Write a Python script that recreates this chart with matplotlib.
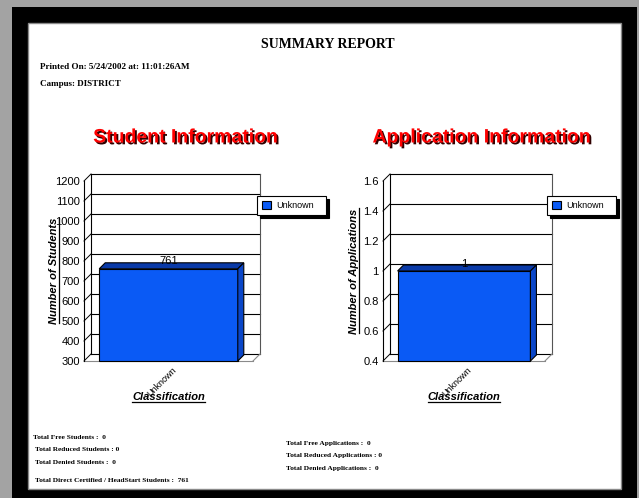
import matplotlib
matplotlib.use("Agg")
import matplotlib.pyplot as plt
from matplotlib.patches import Rectangle, Polygon
from matplotlib.transforms import ScaledTranslation
import matplotlib.patheffects as pe

# data
categories = ['Unknown']
students = [761]
applications = [1]

student_ticks = [300, 400, 500, 600, 700, 800, 900, 1000, 1100, 1200]
student_ticklabels = ['300', '400', '500', '600', '700', '800', '900', '1000', '1100', '1200']
app_ticks = [0.4, 0.6, 0.8, 1.0, 1.2, 1.4, 1.6]
app_ticklabels = ['0.4', '0.6', '0.8', '1', '1.2', '1.4', '1.6']

free_students = 0
reduced_students = 0
denied_students = 0
direct_certified = 761
free_apps = 0
reduced_apps = 0
denied_apps = 0

printed_on = '5/24/2002'
printed_at = '11:01:26AM'
campus = 'DISTRICT'

W, H = 639, 498
fig = plt.figure(figsize=(W / 100, H / 100), dpi=100)
fig.patch.set_facecolor('#a3a3a3')


def fx(x):
    return x / W


def fy(y):
    return 1 - y / H


# page frame (behind the axes)
fig.patches.append(Rectangle((fx(12), fy(498)), (637 - 12) / W, (498 - 7) / H,
                             transform=fig.transFigure, facecolor='black', edgecolor='none',
                             zorder=-2))
fig.patches.append(Rectangle((fx(28), fy(489)), (621 - 28) / W, (489 - 23) / H,
                             transform=fig.transFigure, facecolor='white', edgecolor='#8a8a8a',
                             lw=1, zorder=-1))

serif = 'Liberation Serif'
sans = 'Liberation Sans'

fig.text(fx(328), fy(45), 'SUMMARY REPORT', ha='center', va='center',
         family=serif, weight='bold', fontsize=10)
fig.text(fx(40), fy(67), 'Printed On: %s at: %s' % (printed_on, printed_at), ha='left', va='center',
         family=serif, weight='bold', fontsize=6.6)
fig.text(fx(40), fy(84), 'Campus: %s' % campus, ha='left', va='center',
         family=serif, weight='bold', fontsize=6.5)

shadow = [pe.withSimplePatchShadow(offset=(1.3, -1.3), shadow_rgbFace='#300000', alpha=1)]
fig.text(fx(186), fy(138), 'Student Information', ha='center', va='center', family=sans,
         weight='bold', fontsize=14, color='#ff0000', path_effects=shadow)
fig.text(fx(482), fy(138), 'Application Information', ha='center', va='center', family=sans,
         weight='bold', fontsize=14, color='#ff0000', path_effects=shadow)

front_col = '#0a5af5'
top_col = '#0a3aa8'
side_col = '#0a46c8'


def shift(ax, x, y, dx, dy):
    px, py = ax.transData.transform((x, y))
    return ax.transData.inverted().transform((px + dx, py + dy))


def chart(rect, values, ticks, ticklabels, ylabel, ylab_x, leg_x):
    ax = fig.add_axes(rect)
    ax.set_xlim(-0.5, 0.5)
    ax.set_ylim(ticks[0], ticks[-1])
    ax.patch.set_visible(False)
    for s in ['top', 'right', 'bottom']:
        ax.spines[s].set_visible(False)
    ax.spines['left'].set_linewidth(0.8)
    ax.set_xticks([])
    ax.set_yticks(ticks)
    ax.set_yticklabels(ticklabels, family=sans, fontsize=8)
    ax.tick_params(axis='y', length=0, pad=3)

    x0, x1 = ax.get_xlim()
    y0, y1 = ax.get_ylim()
    back = ax.transData + ScaledTranslation(0.07, 0.07, fig.dpi_scale_trans)

    # back wall + grid
    for t in ticks:
        ax.plot([x0, x1], [t, t], color='black', lw=0.8, transform=back, clip_on=False, zorder=1)
        bx, by = shift(ax, x0, t, 7, 7)
        ax.plot([x0, bx], [t, by], color='black', lw=0.7, clip_on=False, zorder=1)
    ax.plot([x0, x0], [y0, y1], color='black', lw=0.8, transform=back, clip_on=False, zorder=1)
    ax.plot([x1, x1], [y0, y1], color='#555555', lw=0.8, transform=back, clip_on=False, zorder=1)
    # floor
    ax.plot([x0, x1], [y0, y0], color='#8a8a8a', lw=0.8, clip_on=False, zorder=1)
    bx, by = shift(ax, x1, y0, 7, 7)
    ax.plot([x1, bx], [y0, by], color='#8a8a8a', lw=0.8, clip_on=False, zorder=1)

    bars = ax.bar(categories, values, width=0.82, bottom=0, color=front_col,
                  edgecolor='black', lw=0.8, label=categories[0], zorder=3, clip_on=False)
    ax.set_xlim(-0.5, 0.5)
    ax.set_ylim(ticks[0], ticks[-1])
    for b, v in zip(bars, values):
        b.set_y(y0)
        b.set_height(v - y0)
        l, r = b.get_x(), b.get_x() + b.get_width()
        tl = shift(ax, l, v, 6, 6)
        tr = shift(ax, r, v, 6, 6)
        br = shift(ax, r, y0, 6, 6)
        ax.add_patch(Polygon([(l, v), (r, v), tr, tl], closed=True, facecolor=top_col,
                             edgecolor='black', lw=0.8, zorder=3, clip_on=False))
        ax.add_patch(Polygon([(r, y0), (r, v), tr, br], closed=True, facecolor=side_col,
                             edgecolor='black', lw=0.8, zorder=3, clip_on=False))
        lab = ('%g' % v)
        ax.text(b.get_x() + b.get_width() / 2, v, lab, ha='center', va='bottom', family=sans,
                fontsize=8, zorder=4,
                transform=ax.transData + ScaledTranslation(0, 0.025, fig.dpi_scale_trans))
        ax.text(b.get_x() + b.get_width() / 2, y0, categories[0], rotation=45, ha='right', va='top',
                rotation_mode='anchor', family=sans, fontsize=6.5,
                transform=ax.transData + ScaledTranslation(0.03, -0.045, fig.dpi_scale_trans))

    leg = ax.legend(loc='upper left', bbox_to_anchor=(fx(leg_x), fy(196), 69 / W, 0),
                    bbox_transform=fig.transFigure, mode='expand', fancybox=False,
                    edgecolor='black', framealpha=1, borderaxespad=0, borderpad=0.55,
                    handlelength=0.95, handleheight=0.95, handletextpad=0.65,
                    prop={'family': sans, 'size': 6.5},
                    shadow={'color': 'black', 'alpha': 1})
    leg.get_frame().set_linewidth(0.8)

    # axis titles, underlined
    cx = (rect[0] + rect[2] / 2) * W
    ylab = fig.text(fx(ylab_x), fy((181 + 361) / 2), ylabel, rotation=90, ha='center',
                    va='baseline', rotation_mode='anchor', family=sans, weight='bold',
                    style='italic', fontsize=8)
    xlab = fig.text(fx(cx), fy(400), 'Classification', ha='center', va='baseline',
                    family=sans, weight='bold', style='italic', fontsize=8)
    return ax, ylab, xlab, ylab_x


ax1, yl1, xl1, yx1 = chart([fx(84), fy(361), 169 / W, 180 / H], students, student_ticks,
                           student_ticklabels, 'Number of Students', 57, 257)
ax2, yl2, xl2, yx2 = chart([fx(383), fy(361), 162 / W, 180 / H], applications, app_ticks,
                           app_ticklabels, 'Number of Applications', 357, 547)

fig.canvas.draw()
r = fig.canvas.get_renderer()
for t, bx in [(yl1, yx1), (yl2, yx2)]:
    bb = t.get_window_extent(r)
    x = bx + 1.8
    fig.add_artist(plt.Line2D([x / W, x / W], [bb.y0 / H + 0.002, bb.y1 / H], color='black',
                              lw=0.9, transform=fig.transFigure))
for t in [xl1, xl2]:
    bb = t.get_window_extent(r)
    y = fy(402) * H
    fig.add_artist(plt.Line2D([bb.x0 / W, bb.x1 / W], [y / H, y / H], color='black', lw=0.9,
                              transform=fig.transFigure))

# totals under the charts
left_lines = [
    (33, 437, 'Total Free Students :  %d' % free_students),
    (35, 449, 'Total Reduced Students : %d' % reduced_students),
    (35, 462, 'Total Denied Students :  %d' % denied_students),
    (35, 480, 'Total Direct Certified / HeadStart Students :  %d' % direct_certified),
]
right_lines = [
    (286, 443, 'Total Free Applications :  %d' % free_apps),
    (286, 456, 'Total Reduced Applications : %d' % reduced_apps),
    (286, 468, 'Total Denied Applications :  %d' % denied_apps),
]
for x, y, s in left_lines + right_lines:
    fig.text(fx(x), fy(y), s, ha='left', va='center', family=serif, weight='bold', fontsize=5.3)

fig.savefig('out.png', dpi=100, facecolor=fig.get_facecolor())
